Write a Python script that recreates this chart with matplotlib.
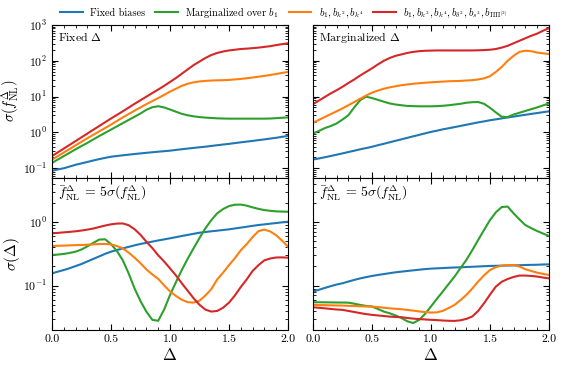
import matplotlib
matplotlib.use("Agg")
import matplotlib.pyplot as plt
import matplotlib.ticker as ticker
import numpy as np

plt.rcParams.update({
    "font.family": "serif",
    "font.serif": ["cmr10"],
    "mathtext.fontset": "cm",
    "axes.formatter.use_mathtext": True,
    "axes.unicode_minus": False,
    "font.size": 8,
})

# ---------------------------------------------------------------------------
# data
# ---------------------------------------------------------------------------
DELTA = [0.00, 0.05, 0.10, 0.15, 0.20, 0.25, 0.30, 0.35, 0.40, 0.45,
         0.50, 0.55, 0.60, 0.65, 0.70, 0.75, 0.80, 0.85, 0.90, 0.95,
         1.00, 1.05, 1.10, 1.15, 1.20, 1.25, 1.30, 1.35, 1.40, 1.45,
         1.50, 1.55, 1.60, 1.65, 1.70, 1.75, 1.80, 1.85, 1.90, 1.95, 2.00]

# sigma(fNL), fixed Delta
fix_fnl_blue = [0.085, 0.093, 0.10, 0.112, 0.125, 0.137, 0.15, 0.165, 0.18, 0.195,
                0.21, 0.22, 0.23, 0.24, 0.25, 0.26, 0.27, 0.28, 0.29, 0.30,
                0.31, 0.325, 0.34, 0.355, 0.37, 0.385, 0.40, 0.42, 0.44, 0.46,
                0.48, 0.505, 0.53, 0.555, 0.58, 0.61, 0.64, 0.675, 0.71, 0.755, 0.80]
fix_fnl_green = [0.141, 0.176, 0.219, 0.272, 0.339, 0.417, 0.513, 0.638, 0.794, 0.977,
                 1.2, 1.48, 1.82, 2.24, 2.75, 3.39, 4.3, 5.05, 5.4, 5.0,
                 4.37, 3.8, 3.31, 3.02, 2.82, 2.69, 2.6, 2.54, 2.48, 2.45,
                 2.43, 2.43, 2.43, 2.43, 2.43, 2.43, 2.43, 2.45, 2.51, 2.57, 2.63]
fix_fnl_orange = [0.174, 0.219, 0.275, 0.347, 0.437, 0.55, 0.69, 0.86, 1.07, 1.33,
                  1.66, 2.09, 2.63, 3.27, 4.07, 5.0, 6.17, 7.5, 9.1, 11.2,
                  13.8, 16.6, 20.0, 22.9, 25.1, 26.6, 27.5, 28.2, 28.6, 28.8,
                  29.3, 30.2, 31.3, 32.6, 34.2, 36.0, 38.0, 40.3, 43.0, 46.0, 49.0]
fix_fnl_red = [0.219, 0.279, 0.355, 0.452, 0.575, 0.733, 0.933, 1.19, 1.51, 1.93,
               2.45, 3.09, 3.89, 4.95, 6.31, 7.94, 10.0, 12.6, 15.8, 20.0,
               25.7, 33.0, 43.6, 57.5, 75.9, 95.5, 120, 145, 166, 182,
               195, 204, 214, 219, 226, 234, 245, 257, 275, 292, 309]

# sigma(fNL), marginalized Delta
mar_fnl_blue = [0.175, 0.188, 0.203, 0.22, 0.239, 0.26, 0.284, 0.309, 0.339, 0.366,
                0.398, 0.439, 0.482, 0.531, 0.585, 0.643, 0.708, 0.78, 0.857, 0.942,
                1.035, 1.12, 1.22, 1.31, 1.41, 1.52, 1.64, 1.77, 1.91, 2.04,
                2.19, 2.32, 2.47, 2.62, 2.77, 2.94, 3.11, 3.30, 3.48, 3.68, 3.89]
mar_fnl_green = [0.933, 1.10, 1.32, 1.51, 1.78, 2.29, 3.02, 5.01, 7.94, 10.0,
                 9.12, 8.13, 7.24, 6.46, 6.03, 5.75, 5.5, 5.43, 5.37, 5.37,
                 5.37, 5.43, 5.56, 5.75, 6.03, 6.31, 6.76, 7.0, 7.08, 6.31,
                 4.9, 3.63, 2.75, 2.69, 3.16, 3.55, 3.98, 4.47, 5.01, 5.69, 6.46]
mar_fnl_orange = [1.86, 2.24, 2.69, 3.24, 3.89, 4.68, 5.75, 7.08, 8.71, 10.7,
                  12.9, 14.8, 16.6, 18.2, 19.5, 20.9, 21.9, 22.9, 23.7, 24.5,
                  25.1, 25.7, 26.3, 26.9, 27.2, 27.5, 28.2, 28.8, 30.2, 32.4,
                  37.2, 49.0, 67.6, 100, 138, 178, 191, 186, 170, 162, 155]
mar_fnl_red = [6.17, 7.76, 9.77, 12.3, 15.1, 18.8, 24.0, 30.2, 38.9, 49.0,
               61.7, 79.4, 100, 120, 138, 151, 166, 178, 186, 191,
               193, 195, 195, 195, 195, 195, 195, 195, 197, 200,
               204, 214, 234, 263, 309, 363, 427, 501, 575, 692, 813]

# sigma(Delta), fixed Delta panel column
fix_dl_blue = [0.156, 0.166, 0.176, 0.188, 0.203, 0.219, 0.24, 0.263, 0.288, 0.316,
               0.342, 0.363, 0.385, 0.407, 0.43, 0.452, 0.472, 0.492, 0.513, 0.533,
               0.555, 0.578, 0.603, 0.627, 0.653, 0.679, 0.697, 0.715, 0.731, 0.75,
               0.767, 0.792, 0.817, 0.843, 0.871, 0.897, 0.918, 0.942, 0.964, 0.989, 1.01]
fix_dl_green = [0.303, 0.308, 0.315, 0.327, 0.342, 0.37, 0.415, 0.47, 0.53, 0.535,
                0.45, 0.35, 0.25, 0.155, 0.09, 0.057, 0.039, 0.029, 0.028, 0.042,
                0.071, 0.113, 0.176, 0.265, 0.386, 0.56, 0.796, 1.07, 1.37, 1.6,
                1.78, 1.87, 1.88, 1.81, 1.70, 1.61, 1.54, 1.50, 1.47, 1.46, 1.45]
fix_dl_orange = [0.42, 0.423, 0.426, 0.43, 0.433, 0.436, 0.44, 0.445, 0.45, 0.452,
                 0.445, 0.42, 0.385, 0.33, 0.275, 0.225, 0.18, 0.15, 0.128, 0.101,
                 0.081, 0.069, 0.06, 0.055, 0.054, 0.058, 0.07, 0.088, 0.125, 0.16,
                 0.21, 0.27, 0.36, 0.45, 0.58, 0.72, 0.76, 0.71, 0.62, 0.51, 0.41]
fix_dl_red = [0.664, 0.675, 0.688, 0.70, 0.715, 0.735, 0.76, 0.79, 0.835, 0.88,
              0.92, 0.945, 0.95, 0.89, 0.77, 0.63, 0.49, 0.39, 0.30, 0.24,
              0.187, 0.145, 0.109, 0.083, 0.0634, 0.05, 0.042, 0.0391, 0.040, 0.045,
              0.054, 0.07, 0.095, 0.125, 0.17, 0.21, 0.25, 0.267, 0.277, 0.278, 0.275]

# sigma(Delta), marginalized panel column
mar_dl_blue = [0.0806, 0.086, 0.092, 0.098, 0.104, 0.109, 0.116, 0.123, 0.13, 0.136,
               0.142, 0.147, 0.152, 0.157, 0.162, 0.166, 0.170, 0.174, 0.178, 0.182,
               0.185, 0.187, 0.189, 0.191, 0.193, 0.194, 0.196, 0.198, 0.200, 0.202,
               0.204, 0.205, 0.206, 0.207, 0.208, 0.209, 0.211, 0.212, 0.213, 0.215, 0.216]
mar_dl_green = [0.0548, 0.0548, 0.0547, 0.0545, 0.0543, 0.0542, 0.054, 0.052, 0.0498, 0.048,
                0.0469, 0.043, 0.0391, 0.0368, 0.034, 0.031, 0.0275, 0.0258, 0.029, 0.036,
                0.047, 0.062, 0.0806, 0.106, 0.139, 0.188, 0.253, 0.36, 0.522, 0.75,
                1.07, 1.42, 1.72, 1.75, 1.37, 1.1, 0.897, 0.80, 0.722, 0.66, 0.603]
mar_dl_orange = [0.0498, 0.0495, 0.0493, 0.049, 0.0488, 0.0486, 0.0482, 0.0478, 0.0474, 0.047,
                 0.0469, 0.046, 0.045, 0.044, 0.0432, 0.0426, 0.0415, 0.0405, 0.0393, 0.0383,
                 0.0377, 0.038, 0.0401, 0.0445, 0.0498, 0.059, 0.0714, 0.09, 0.116, 0.145,
                 0.176, 0.195, 0.206, 0.211, 0.21, 0.2, 0.181, 0.17, 0.16, 0.153, 0.147]
mar_dl_red = [0.0457, 0.0448, 0.044, 0.043, 0.0422, 0.0416, 0.040, 0.0385, 0.037, 0.0357,
              0.0347, 0.034, 0.0333, 0.0326, 0.0322, 0.0319, 0.031, 0.0303, 0.0298, 0.0294,
              0.029, 0.0287, 0.0283, 0.028, 0.0279, 0.0285, 0.030, 0.0327, 0.040, 0.0529,
              0.072, 0.0966, 0.115, 0.127, 0.137, 0.144, 0.144, 0.142, 0.139, 0.134, 0.13]

LABELS = ["Fixed biases",
          r"Marginalized over $b_1$",
          r"$b_1, b_{k^2}, b_{k^4}$",
          r"$b_1, b_{k^2}, b_{k^4}, b_{\delta^2}, b_{s^2}, b_{\Pi\Pi^{[2]}}$"]
COLORS = ["#1f77b4", "#2ca02c", "#ff7f0e", "#d62728"]

PANELS = [
    [fix_fnl_blue, fix_fnl_green, fix_fnl_orange, fix_fnl_red],
    [mar_fnl_blue, mar_fnl_green, mar_fnl_orange, mar_fnl_red],
    [fix_dl_blue, fix_dl_green, fix_dl_orange, fix_dl_red],
    [mar_dl_blue, mar_dl_green, mar_dl_orange, mar_dl_red],
]
FNL_TEXT = r"$\bar{f}_{\rm NL}^{\Delta} \,=\, 5\sigma(f_{\rm NL}^{\Delta})$"
PANEL_TEXT = [r"Fixed $\Delta$", r"Marginalized $\Delta$", FNL_TEXT, FNL_TEXT]
PANEL_FS = [8.5, 8.5, 10, 10]

# ---------------------------------------------------------------------------
fig, axes = plt.subplots(2, 2, figsize=(5.63, 3.68), dpi=100, sharex=True)
fig.subplots_adjust(left=0.0924, right=0.975, top=0.932, bottom=0.103,
                    hspace=0, wspace=0.106)

for i, ax in enumerate(axes.flat):
    for series, color, label in zip(PANELS[i], COLORS, LABELS):
        ax.plot(DELTA, series, color=color, lw=1.5, label=label)
    ax.set_yscale("log")
    ax.set_xlim(0, 2)
    ax.xaxis.set_major_locator(ticker.MultipleLocator(0.5))
    ax.xaxis.set_minor_locator(ticker.MultipleLocator(0.1))
    ax.tick_params(which="both", direction="in", top=True, right=True,
                   labelsize=8.5)
    ax.tick_params(which="major", length=4)
    ax.tick_params(which="minor", length=2)
    ax.text(0.025, 0.965, PANEL_TEXT[i], transform=ax.transAxes,
            ha="left", va="top", fontsize=PANEL_FS[i])

for ax in axes[0]:
    ax.set_ylim(0.055, 1000)
for ax in axes[1]:
    ax.set_ylim(0.02, 5)
    ax.set_xlabel(r"$\Delta$", fontsize=12, labelpad=2)
    ax.xaxis.set_major_formatter(ticker.FormatStrFormatter("%.1f"))

for ax in axes[:, 1]:
    ax.tick_params(labelleft=False)

axes[0, 0].set_ylabel(r"$\sigma(f_{\rm NL}^{\Delta})$", fontsize=10.5)
axes[1, 0].set_ylabel(r"$\sigma(\Delta)$", fontsize=11)
for ax in axes[:, 0]:
    ax.yaxis.set_label_coords(-0.128, 0.5)

handles, labels = axes[0, 0].get_legend_handles_labels()
fig.legend(handles, labels, loc="center", bbox_to_anchor=(0.504, 0.966),
           ncol=4, frameon=False, fontsize=7.4, handlelength=2.2,
           columnspacing=1.0, handletextpad=0.7)

fig.savefig("out.png", dpi=100)
